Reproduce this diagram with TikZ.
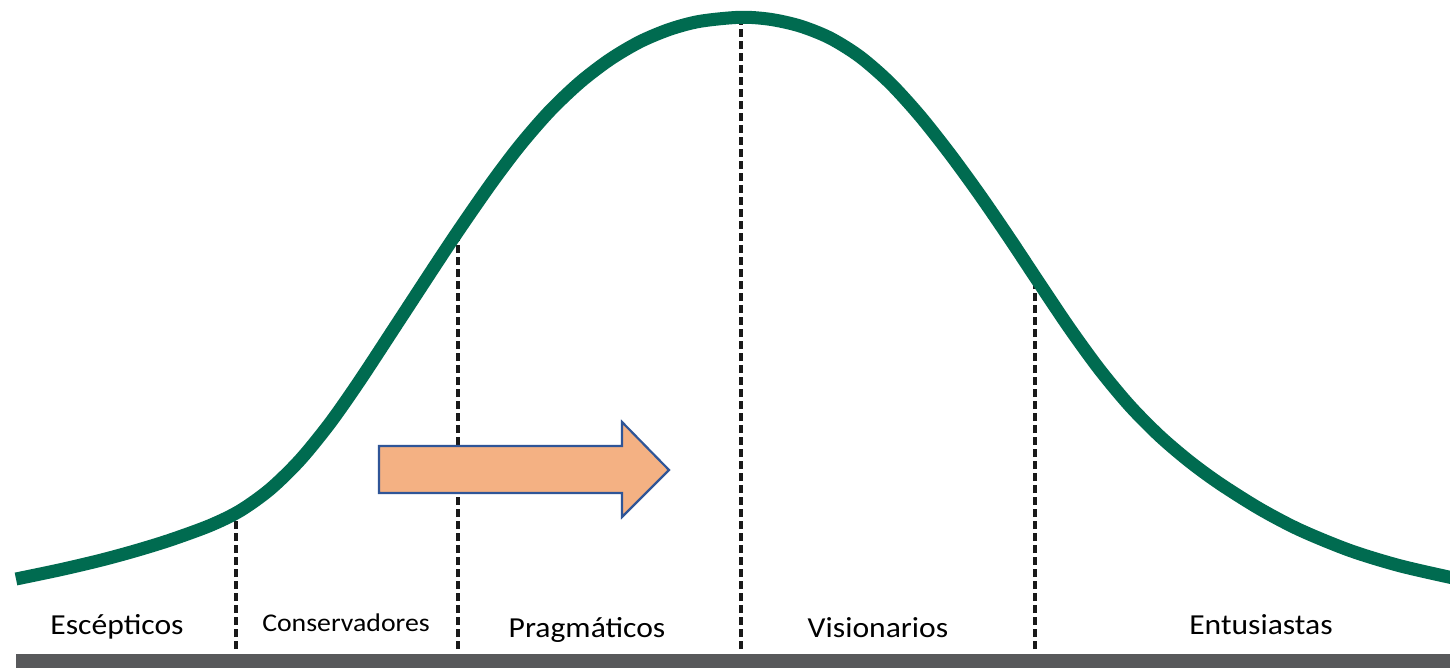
\documentclass[tikz,border=0pt]{standalone}
\usepackage{fontspec}
\newfontfamily\lblfont[FakeStretch=1.09]{Carlito}
\definecolor{curvegreen}{RGB}{0,107,80}
\definecolor{arrowfill}{RGB}{244,177,131}
\definecolor{arrowline}{RGB}{47,85,151}
\definecolor{bargray}{RGB}{88,89,91}
\definecolor{dashblack}{RGB}{25,25,25}
\tikzset{
  divider/.style={draw=dashblack, line width=3.4pt, dash pattern=on 8pt off 4pt},
  bellcurve/.style={draw=curvegreen, line width=13pt},
  bigarrow/.style={fill=arrowfill, draw=arrowline, line width=2.2pt, line join=miter},
  lbl/.style={anchor=base, inner sep=0pt, font=\lblfont\fontsize{29}{32}\selectfont},
  smalllbl/.style={anchor=base, inner sep=0pt, font=\lblfont\fontsize{25.5}{30}\selectfont}
}
\begin{document}
\begin{tikzpicture}[x=1pt,y=-1pt]
\useasboundingbox (0,0) rectangle (1450,668);
\fill[white] (0,0) rectangle (1450,668);
% bottom bar
\fill[bargray] (16,654) rectangle (1450,668);
% divider coordinates
\coordinate (d1t) at (236,514); \coordinate (d1b) at (236,649);
\coordinate (d2t) at (458,232); \coordinate (d2b) at (458,649);
\coordinate (d3t) at (741,18);  \coordinate (d3b) at (741,649);
\coordinate (d4t) at (1035,277); \coordinate (d4b) at (1035,649);
\draw[divider] (d1b) -- (d1t);
\draw[divider] (d2b) -- (d2t);
\draw[divider] (d3b) -- (d3t);
\draw[divider] (d4b) -- (d4t);
% bell curve
\begin{scope}
\clip (0,0) rectangle (1450,668);
\draw[bellcurve] plot[smooth, tension=0.5] coordinates {
 (16,579) (60,569.8) (100,560.4) (135,550.9) (170,540.1) (210,525.5) (240,510.8)
 (270,489.3) (300,460)
 (330,423.1) (360,380.3) (400,319.3) (450,243.1) (490,185.1) (520,145.3) (550,110.8)
 (580,82.3) (610,59.4) (640,41.7) (670,29.2) (700,21.3) (740,17.3) (770,19.3) (800,26)
 (830,38) (860,56.8) (890,83) (920,116) (950,154) (980,195.2) (1010,239) (1040,284.3)
 (1070,328.9) (1100,370.1) (1130,406.1) (1160,436.4) (1190,461.9) (1220,483.8)
 (1260,509) (1300,530) (1350,550.5) (1400,565.8) (1456,578.6)};
\end{scope}
% arrow
\coordinate (atl) at (379,446);
\coordinate (abl) at (379,493);
\coordinate (atip) at (669,470);
\draw[bigarrow] (atl) -- (622,446) -- (622,422) -- (atip) -- (622,517) -- (622,493) -- (abl) -- cycle;
% labels
\node[lbl] (escepticos) at (117,634) {Escépticos};
\node[smalllbl] (conservadores) at (346,631) {Conservadores};
\node[lbl] (pragmaticos) at (587,637) {Pragmáticos};
\node[lbl] (visionarios) at (878,637) {Visionarios};
\node[lbl] (entusiastas) at (1261,634) {Entusiastas};
\end{tikzpicture}
\end{document}
